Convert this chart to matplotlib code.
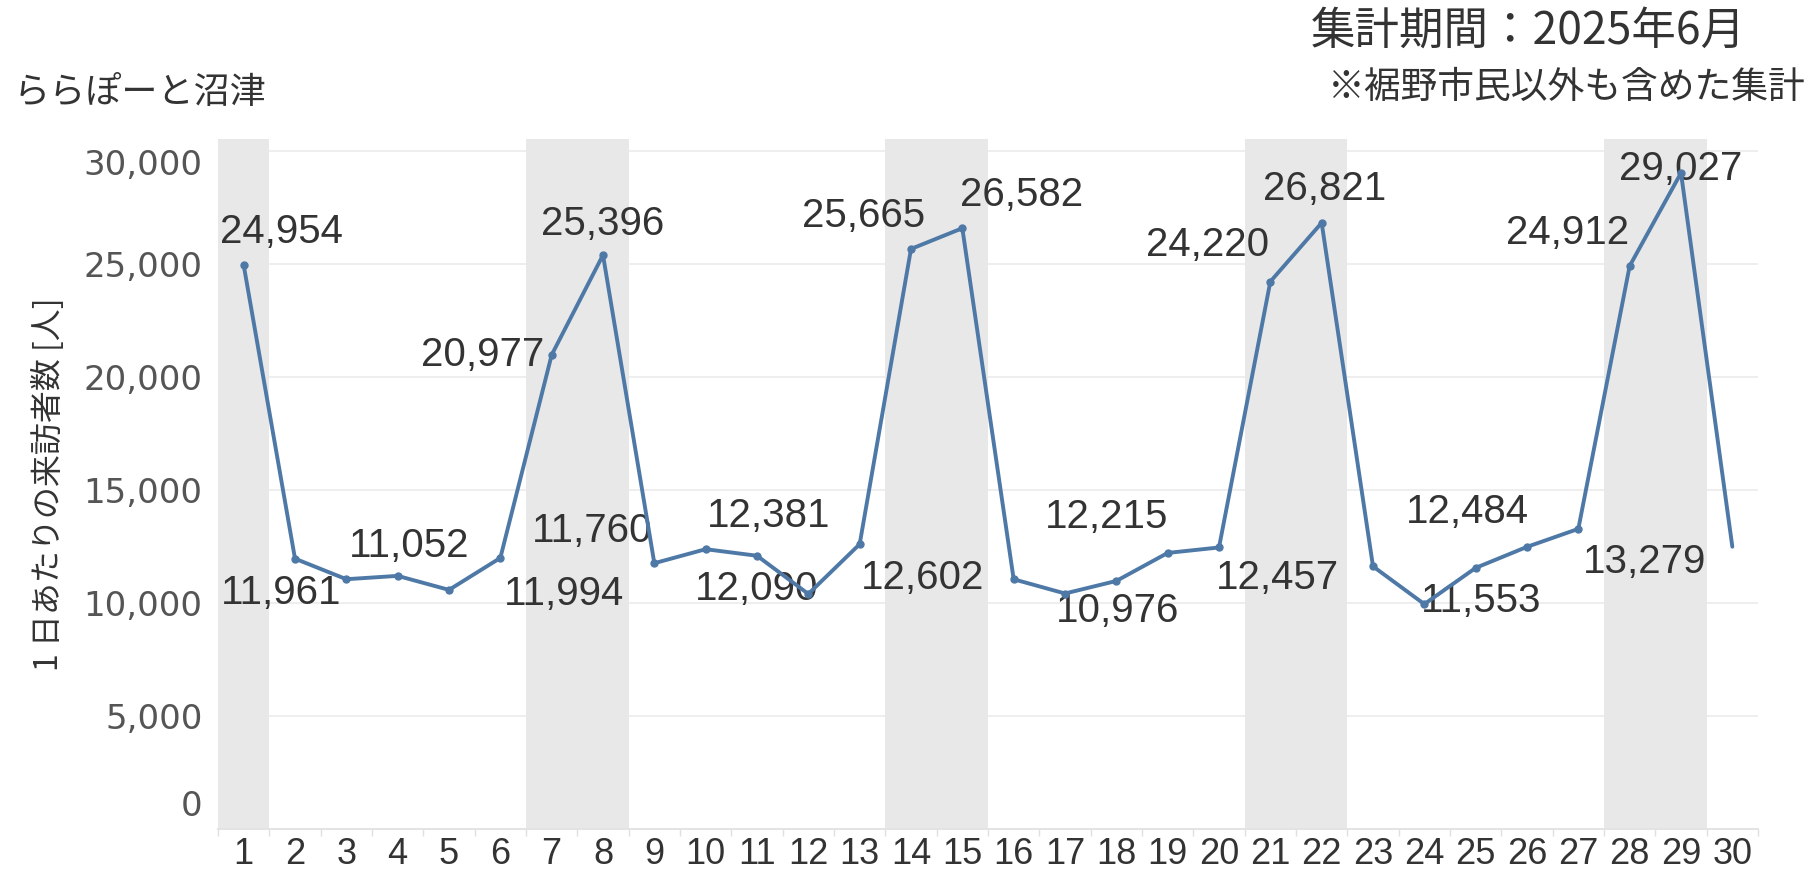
import matplotlib
matplotlib.use("Agg")
import matplotlib.pyplot as plt
import matplotlib.transforms as mtransforms
import numpy as np

# 2025年6月 ららぽーと沼津 1日あたりの来訪者数
days = list(range(1, 31))
visitors = [24954, 11961, 11052, 11200, 10580, 11994, 20977, 25396, 11760, 12381,
            12090, 10400, 12602, 25665, 26582, 11050, 10420, 10976, 12215, 12457,
            24220, 26821, 11620, 9950, 11553, 12484, 13279, 24912, 29027, 12490]
weekend_days = [1, 7, 8, 14, 15, 21, 22, 28, 29]
labeled_days = [1, 2, 3, 6, 7, 8, 9, 10, 11, 13, 14, 15, 18, 19, 20, 21, 22,
                25, 26, 27, 28, 29]
y_ticks = [0, 5000, 10000, 15000, 20000, 25000, 30000]

# ラベルの配置 (offset points, ha)
label_pos = {
    1: (27, 24, "center"), 2: (-10, -25, "center"), 3: (45, 24, "center"),
    6: (46, -26, "center"), 7: (-5, 0, "right"), 8: (0, 22, "center"),
    9: (-45, 23, "center"), 10: (45, 24, "center"), 11: (0, -24, "center"),
    13: (45, -24, "center"), 14: (-34, 24, "center"), 15: (43, 24, "center"),
    18: (1, -22, "center"), 19: (-44, 26, "center"), 20: (42, -22, "center"),
    21: (-45, 26, "center"), 22: (2, 24, "center"), 25: (4, -24, "center"),
    26: (-43, 25, "center"), 27: (48, -24, "center"), 28: (-45, 24, "center"),
    29: (0, 3, "center"),
}

W, H = 1819, 875
LINE = "#4e79a7"
TXT = "#333333"
NUM_FONT = ["Liberation Sans", "DejaVu Sans"]
JP_FONT = ["Noto Sans CJK JP", "DejaVu Sans"]

fig = plt.figure(figsize=(W / 100, H / 100), dpi=100)
ax = fig.add_axes([218 / W, 1 - 829 / H, (1758 - 218) / W, (829 - 139) / H])

for d in weekend_days:
    ax.axvspan(d - 0.5, d + 0.5, color="#e8e8e8", lw=0, zorder=1)
for v in y_ticks[1:]:
    ax.axhline(v, color="#eeeeee", lw=1.4, zorder=0.5)

ax.plot(days, visitors, color=LINE, lw=2.8, marker="o", ms=5,
        markevery=list(range(len(days) - 1)), solid_capstyle="round", zorder=3)

for d in labeled_days:
    v = visitors[d - 1]
    dx, dy, ha = label_pos[d]
    ax.annotate(f"{v:,}", (d, v), xytext=(dx, dy), textcoords="offset points",
                ha=ha, va="center", fontsize=29, family=NUM_FONT, color=TXT,
                zorder=2.5)

ax.set_xlim(0.5, 30.5)
ax.set_ylim(0, 30530)
for side in ("top", "right", "left"):
    ax.spines[side].set_visible(False)
ax.spines["bottom"].set_color("#e3e3e3")
ax.spines["bottom"].set_linewidth(1.4)

ax.set_xticks(days)
ax.set_xticklabels([str(d) for d in days], fontsize=26, family=NUM_FONT, color=TXT)
ax.set_xticks(np.arange(0.5, 31, 1), minor=True)
ax.tick_params(axis="x", which="major", length=0, pad=6)
ax.tick_params(axis="x", which="minor", length=5, width=1, color="#e0e0e0")

ax.set_yticks(y_ticks)
ax.set_yticklabels([f"{v:,}" for v in y_ticks], fontsize=24.5,
                   family="DejaVu Sans", color="#555555")
ax.tick_params(axis="y", length=0, pad=11)

# 端の目盛ラベルは内側へ寄せる
ylabels = ax.get_yticklabels()
ylabels[0].set_transform(ylabels[0].get_transform()
                         + mtransforms.ScaledTranslation(0, 19 / 72, fig.dpi_scale_trans))
ylabels[-1].set_transform(ylabels[-1].get_transform()
                          + mtransforms.ScaledTranslation(0, -8 / 72, fig.dpi_scale_trans))

fig.text(49 / W, 1 - 484 / H, "1 日あたりの来訪者数 [人]", rotation=90,
         ha="center", va="center", fontsize=23, family=JP_FONT, color=TXT)
fig.text(14 / W, 1 - 93 / H, "ららぽーと沼津", ha="left", va="center",
         fontsize=26, family=JP_FONT, color=TXT)
fig.text(1746 / W, 1 - 31 / H, "集計期間：2025年6月", ha="right", va="center",
         fontsize=32, family=JP_FONT, color=TXT)
fig.text(1806 / W, 1 - 87 / H, "※裾野市民以外も含めた集計", ha="right", va="center",
         fontsize=26.5, family=JP_FONT, color=TXT)

fig.savefig("out.png", dpi=100)
plt.close(fig)
